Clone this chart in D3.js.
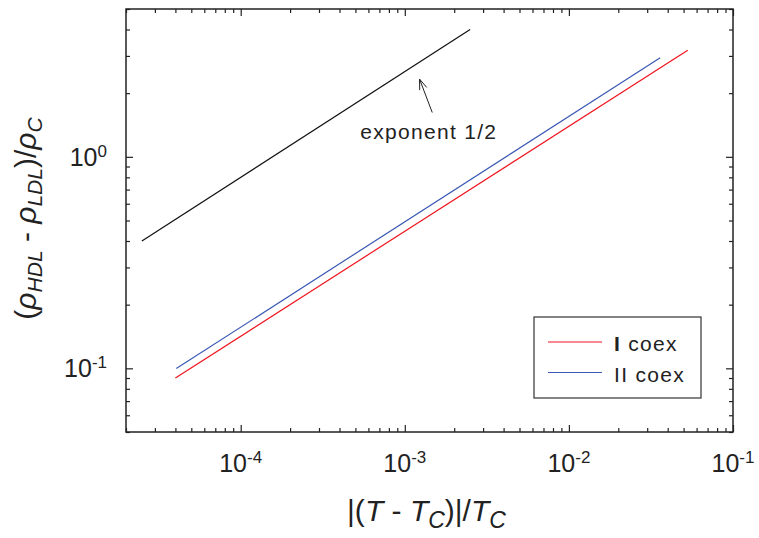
<!DOCTYPE html>
<html><head><meta charset="utf-8">
<script src="https://cdn.jsdelivr.net/npm/d3@7"></script>
<style>body{margin:0;background:#fff}svg{display:block}</style>
</head><body><svg id="c" width="759" height="538"></svg>
<script>
// ---- data ----
const seriesNames = ["I coex", "II coex"];
const series1X = [4.0e-5, 5.3e-2];
const series1Y = [0.090, 3.19];
const series2X = [4.05e-5, 3.6e-2];
const series2Y = [0.0997, 2.94];
const guideX = [2.5e-5, 2.5e-3];
const guideY = [0.4, 4.0];
const xTickExps = [-4, -3, -2, -1];
const yTickExps = [-1, 0];
const annotationText = "exponent 1/2";
const annotationPos = [1.4e-3, 1.22];
const arrowTail = [1.47e-3, 1.62];
const arrowTip = [1.23e-3, 2.33];

// ---- layout ----
const W = 759, H = 538;
const L = 126, R = 733, T = 9, B = 432;
const FONT = "'Liberation Sans', Arial, Helvetica, sans-serif";
const colors = ["#f0141e", "#3a58b4"];

const svg = d3.select("#c");
const x = d3.scaleLog().domain([2e-5, 0.1]).range([L, R]);
const y = d3.scaleLog().domain([0.05, 5]).range([B, T]);

function minorTicks(lo, hi) {
  const out = [];
  for (let e = Math.floor(Math.log10(lo)); e <= Math.ceil(Math.log10(hi)); e++) {
    for (let m = 2; m <= 9; m++) {
      const v = m * Math.pow(10, e);
      if (v >= lo * 0.999 && v <= hi * 1.001) out.push(v);
    }
  }
  return out;
}
const xMajor = xTickExps.map(e => Math.pow(10, e));
const yMajor = yTickExps.map(e => Math.pow(10, e));
const xMinor = minorTicks(2e-5, 0.1);
const yMinor = minorTicks(0.05, 5);

function drawAxis(gen, transform, vals, size) {
  const g = svg.append("g").attr("transform", transform)
    .call(gen.tickValues(vals).tickSize(-size).tickSizeOuter(0).tickFormat(""));
  g.select(".domain").remove();
  g.selectAll(".tick line").attr("stroke", "#222").attr("stroke-width", 1.2);
  g.selectAll(".tick text").remove();
  return g;
}
drawAxis(d3.axisBottom(x), `translate(0,${B})`, xMinor, 4);
drawAxis(d3.axisTop(x), `translate(0,${T})`, xMinor, 4);
drawAxis(d3.axisBottom(x), `translate(0,${B})`, xMajor, 7);
drawAxis(d3.axisTop(x), `translate(0,${T})`, xMajor, 7);
drawAxis(d3.axisLeft(y), `translate(${L},0)`, yMinor, 4);
drawAxis(d3.axisRight(y), `translate(${R},0)`, yMinor, 4);
drawAxis(d3.axisLeft(y), `translate(${L},0)`, yMajor, 7);
drawAxis(d3.axisRight(y), `translate(${R},0)`, yMajor, 7);

// frame
svg.append("rect").attr("x", L).attr("y", T).attr("width", R - L).attr("height", B - T)
  .attr("fill", "none").attr("stroke", "#222").attr("stroke-width", 1.5);

// tick labels
xTickExps.forEach(e => {
  const t = svg.append("text").attr("x", x(Math.pow(10, e))).attr("y", B + 40)
    .attr("text-anchor", "middle").attr("font-family", FONT).attr("font-size", 25).attr("fill", "#222");
  t.append("tspan").text("10");
  t.append("tspan").attr("dy", -9).attr("font-size", 17).text(String(e));
});
yTickExps.forEach(e => {
  const t = svg.append("text").attr("x", L - 19).attr("y", y(Math.pow(10, e)) + 9)
    .attr("text-anchor", "end").attr("font-family", FONT).attr("font-size", 25).attr("fill", "#222");
  t.append("tspan").text("10");
  t.append("tspan").attr("dy", -9).attr("font-size", 17).text(String(e));
});

// axis titles
const xt = svg.append("text").attr("x", (L + R) / 2 - 3).attr("y", 521).attr("text-anchor", "middle")
  .attr("font-family", FONT).attr("font-size", 30).attr("fill", "#222");
xt.append("tspan").text("|(");
xt.append("tspan").attr("font-style", "italic").text("T");
xt.append("tspan").text(" - ");
xt.append("tspan").attr("font-style", "italic").text("T");
xt.append("tspan").attr("font-style", "italic").attr("font-size", 23).attr("dy", 7).text("C");
xt.append("tspan").attr("dy", -7).text(")|/");
xt.append("tspan").attr("font-style", "italic").text("T");
xt.append("tspan").attr("font-style", "italic").attr("font-size", 23).attr("dy", 7).text("C");

const yt = svg.append("text").attr("transform", `translate(36,${(T + B) / 2 - 2}) rotate(-90)`)
  .attr("text-anchor", "middle").attr("font-family", FONT).attr("font-size", 30).attr("fill", "#222");
yt.append("tspan").text("(");
yt.append("tspan").attr("font-style", "italic").text("ρ");
yt.append("tspan").attr("font-style", "italic").attr("font-size", 21).attr("dy", 6).text("HDL");
yt.append("tspan").attr("dy", -6).text(" - ");
yt.append("tspan").attr("font-style", "italic").text("ρ");
yt.append("tspan").attr("font-style", "italic").attr("font-size", 21).attr("dy", 6).text("LDL");
yt.append("tspan").attr("dy", -6).text(")/");
yt.append("tspan").attr("font-style", "italic").text("ρ");
yt.append("tspan").attr("font-style", "italic").attr("font-size", 21).attr("dy", 6).text("C");

// lines
const line = d3.line().x(d => x(d[0])).y(d => y(d[1]));
const guide = guideX.map((v, i) => [v, guideY[i]]);
svg.append("path").datum(guide).attr("d", line).attr("fill", "none").attr("stroke", "#111").attr("stroke-width", 1.2);
const allSeries = [series1X.map((v, i) => [v, series1Y[i]]), series2X.map((v, i) => [v, series2Y[i]])];
allSeries.forEach((s, i) => {
  svg.append("path").datum(s).attr("d", line).attr("fill", "none").attr("stroke", colors[i]).attr("stroke-width", 1.2);
});

// annotation
svg.append("text").attr("x", x(annotationPos[0])).attr("y", y(annotationPos[1]))
  .attr("text-anchor", "middle").attr("font-family", FONT).attr("font-size", 21)
  .attr("letter-spacing", 1.3).attr("fill", "#222").text(annotationText);
const ax0 = x(arrowTail[0]), ay0 = y(arrowTail[1]), ax1 = x(arrowTip[0]), ay1 = y(arrowTip[1]);
svg.append("line").attr("x1", ax0).attr("y1", ay0).attr("x2", ax1).attr("y2", ay1).attr("stroke", "#222").attr("stroke-width", 1);
const ang = Math.atan2(ay1 - ay0, ax1 - ax0);
[-0.35, 0.35].forEach(da => {
  svg.append("line").attr("x1", ax1).attr("y1", ay1)
    .attr("x2", ax1 - 11 * Math.cos(ang + da)).attr("y2", ay1 - 11 * Math.sin(ang + da))
    .attr("stroke", "#222").attr("stroke-width", 1);
});

// legend
const lg = svg.append("g");
lg.append("rect").attr("x", 534).attr("y", 317).attr("width", 167).attr("height", 81)
  .attr("fill", "#fff").attr("stroke", "#333").attr("stroke-width", 1.2);
seriesNames.forEach((n, i) => {
  const yy = 342 + i * 30.5;
  lg.append("line").attr("x1", 548).attr("x2", 602).attr("y1", yy).attr("y2", yy)
    .attr("stroke", colors[i]).attr("stroke-width", 1.2);
  const t = lg.append("text").attr("x", 614).attr("y", yy + 9).attr("font-family", FONT).attr("font-size", 21)
    .attr("letter-spacing", 1.3).attr("fill", "#222");
  if (i === 0) {
    const parts = n.split(" ");
    t.append("tspan").attr("font-weight", "bold").text(parts[0]);
    t.append("tspan").text(" " + parts.slice(1).join(" "));
  } else {
    t.text(n);
  }
});
</script></body></html>
